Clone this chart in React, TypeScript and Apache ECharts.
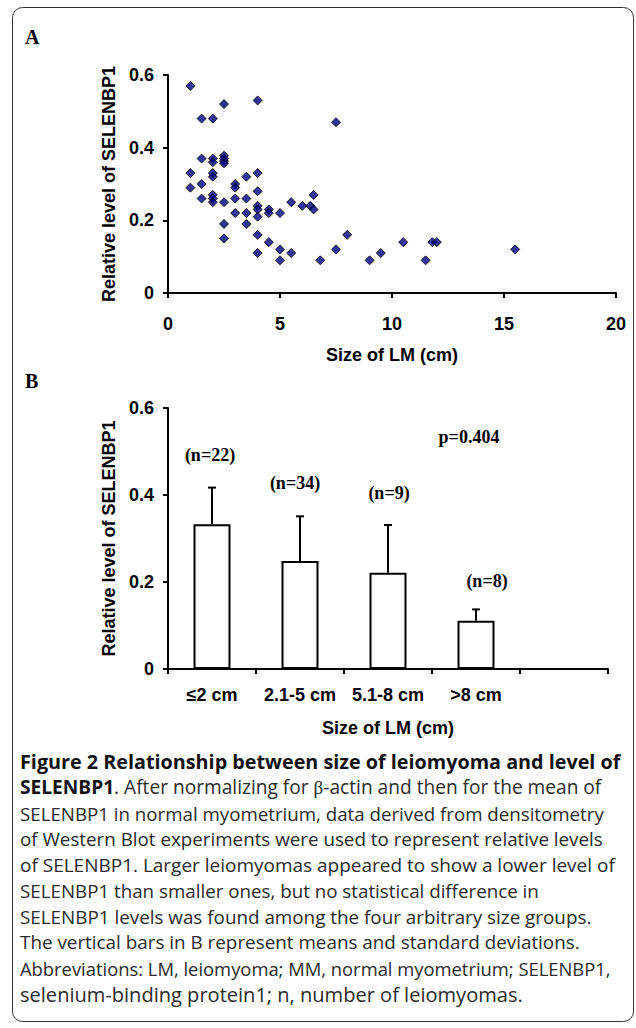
import React, { useEffect, useRef } from "react";
import * as echarts from "echarts";

// ---- Panel A: scatter data (size of LM in cm, relative level of SELENBP1)
const sizeCm = [
  1, 1, 1,
  1.5, 1.5, 1.5, 1.5,
  2, 2, 2, 2, 2, 2, 2, 2,
  2.5, 2.5, 2.5, 2.5, 2.5, 2.5, 2.5, 2.5,
  3, 3, 3, 3,
  3.5, 3.5, 3.5, 3.5,
  4, 4, 4, 4, 4, 4, 4, 4,
  4.5, 4.5, 4.5,
  5, 5, 5,
  5.5, 5.5,
  6, 6.35, 6.5, 6.5, 6.8,
  7.5, 7.5, 8, 9, 9.5, 10.5, 11.5, 11.8, 12, 15.5,
];
const level = [
  0.57, 0.33, 0.29,
  0.48, 0.37, 0.3, 0.26,
  0.48, 0.37, 0.36, 0.33, 0.32, 0.27, 0.26, 0.25,
  0.52, 0.378, 0.37, 0.363, 0.357, 0.25, 0.19, 0.15,
  0.3, 0.29, 0.26, 0.22,
  0.32, 0.26, 0.22, 0.19,
  0.53, 0.33, 0.28, 0.24, 0.23, 0.21, 0.16, 0.11,
  0.23, 0.22, 0.14,
  0.22, 0.12, 0.09,
  0.25, 0.11,
  0.24, 0.24, 0.27, 0.23, 0.09,
  0.47, 0.12, 0.16, 0.09, 0.11, 0.14, 0.09, 0.14, 0.14, 0.12,
];

// ---- Panel B: grouped means and SDs
const groups = ["≤2 cm", "2.1-5 cm", "5.1-8 cm", ">8 cm", ""];
const means = [0.333, 0.248, 0.221, 0.111];
const sds = [0.084, 0.103, 0.11, 0.026];
const nLabels = ["(n=22)", "(n=34)", "(n=9)", "(n=8)"];
const pLabel = "p=0.404";

// caption: [bold part, regular part]
const captionLines: [string, string][] = [
  ["Figure 2 Relationship between size of leiomyoma and level of", ""],
  ["SELENBP1", ". After normalizing for β-actin and then for the mean of"],
  ["", "SELENBP1 in normal myometrium, data derived from densitometry"],
  ["", "of Western Blot experiments were used to represent relative levels"],
  ["", "of SELENBP1. Larger leiomyomas appeared to show a lower level of"],
  ["", "SELENBP1 than smaller ones, but no statistical difference in"],
  ["", "SELENBP1 levels was found among the four arbitrary size groups."],
  ["", "The vertical bars in B represent means and standard deviations."],
  ["", "Abbreviations: LM, leiomyoma; MM, normal myometrium; SELENBP1,"],
  ["", "selenium-binding protein1; n, number of leiomyomas."],
];
const captionRight = [621, 604, 604, 603, 615, 539, 592, 580, 611, 523];

const AX = "Liberation Sans";
const SERIF = "Liberation Serif";
const CAP = "Open Sans";

const tickFmt = (v: number) => (v === 0 ? "0" : v.toFixed(1));

export default function App() {
  const ref = useRef<HTMLDivElement>(null);
  useEffect(() => {
    document.body.style.margin = "0";
    const chart = echarts.init(ref.current!, null, { renderer: "svg" });
    const axisLine = { show: true, lineStyle: { color: "#000", width: 2 } };
    const axisTick = { show: true, length: 5, lineStyle: { color: "#000", width: 2 } };
    const labelStyle = { color: "#000", fontFamily: AX, fontWeight: "bold" as const, fontSize: 18 };
    const nameStyle = { color: "#000", fontFamily: AX, fontWeight: "bold" as const, fontSize: 18 };

    const cvs = document.createElement("canvas");
    const ctx = cvs.getContext("2d")!;
    const measure = (bold: string, reg: string) => {
      let w = 0;
      ctx.font = `bold 100px "${CAP}"`;
      w += ctx.measureText(bold).width;
      ctx.font = `100px "${CAP}"`;
      w += ctx.measureText(reg).width;
      return w / 100;
    };

    const nPos = [
      [210, 455],
      [295, 483],
      [389, 493],
      [487, 581],
    ];

    const graphic: any[] = [
      {
        type: "rect",
        shape: { x: 12.5, y: 7.5, width: 621, height: 1014, r: 10 },
        style: { fill: "none", stroke: "#333", lineWidth: 1 },
        silent: true,
      },
      { type: "text", x: 25, y: 37, style: { text: "A", font: `bold 20px "${SERIF}"`, fill: "#000", verticalAlign: "middle" } },
      { type: "text", x: 25, y: 381, style: { text: "B", font: `bold 20px "${SERIF}"`, fill: "#000", verticalAlign: "middle" } },
      {
        type: "text",
        x: 469,
        y: 437,
        style: { text: pLabel, font: `bold 18px "${SERIF}"`, fill: "#000", align: "center", verticalAlign: "middle" },
      },
    ];
    nLabels.forEach((t, i) => {
      graphic.push({
        type: "text",
        x: nPos[i][0],
        y: nPos[i][1],
        style: { text: t, font: `bold 18px "${SERIF}"`, fill: "#000", align: "center", verticalAlign: "middle" },
      });
    });
    captionLines.forEach(([b, r], i) => {
      const left = 20;
      const em = measure(b, r);
      let size = (captionRight[i] - left) / em;
      size = Math.max(17.5, Math.min(20.5, size));
      const text = (b ? `{b|${b}}` : "") + r.replace("β", "{g|β}");
      graphic.push({
        type: "text",
        x: left,
        y: 761.5 + i * 25.85,
        style: {
          text,
          fontFamily: CAP,
          fontSize: size,
          fill: "#2a2a2a",
          verticalAlign: "middle",
          rich: {
            b: { fontFamily: CAP, fontSize: size, fontWeight: "bold", fill: "#111" },
            g: { fontFamily: SERIF, fontSize: size },
          },
        },
      });
    });

    const yAxisCommon = {
      type: "value",
      min: 0,
      max: 0.6,
      interval: 0.2,
      axisLine,
      axisTick,
      splitLine: { show: false },
      axisLabel: { ...labelStyle, margin: 14, formatter: tickFmt },
      name: "Relative level of SELENBP1",
      nameLocation: "middle",
      nameGap: 45,
      nameTextStyle: nameStyle,
    };

    const option: any = {
      animation: false,
      backgroundColor: "#fff",
      grid: [
        { left: 168, top: 75, width: 448, height: 218 },
        { left: 168, top: 408, width: 440, height: 261 },
      ],
      xAxis: [
        {
          gridIndex: 0,
          type: "value",
          min: 0,
          max: 20,
          interval: 5,
          axisLine,
          axisTick,
          splitLine: { show: false },
          axisLabel: { ...labelStyle, margin: 22 },
          name: "Size of LM (cm)",
          nameLocation: "middle",
          nameGap: 53,
          nameTextStyle: nameStyle,
        },
        {
          gridIndex: 1,
          type: "category",
          data: groups,
          axisLine,
          axisTick: { ...axisTick, interval: 0 },
          axisLabel: { ...labelStyle, margin: 17, interval: 0 },
          name: "Size of LM (cm)",
          nameLocation: "middle",
          nameGap: 50,
          nameTextStyle: nameStyle,
        },
      ],
      yAxis: [
        { gridIndex: 0, ...yAxisCommon },
        { gridIndex: 1, ...yAxisCommon },
      ],
      series: [
        {
          type: "scatter",
          xAxisIndex: 0,
          yAxisIndex: 0,
          symbol: "diamond",
          symbolSize: 9,
          itemStyle: { color: "#000080", borderColor: "#000", borderWidth: 1 },
          data: sizeCm.map((x, i) => [x, level[i]]),
        },
        {
          type: "bar",
          xAxisIndex: 1,
          yAxisIndex: 1,
          barWidth: 37,
          itemStyle: { color: "#fff", borderColor: "#000", borderWidth: 2 },
          data: means,
        },
        {
          type: "custom",
          xAxisIndex: 1,
          yAxisIndex: 1,
          z: 5,
          data: means.map((m, i) => [i, m, m + sds[i]]),
          renderItem: (_p: any, api: any) => {
            const base = api.coord([api.value(0), api.value(1)]);
            const top = api.coord([api.value(0), api.value(2)]);
            const st = { stroke: "#000", lineWidth: 2 };
            return {
              type: "group",
              children: [
                { type: "line", shape: { x1: base[0], y1: base[1], x2: base[0], y2: top[1] }, style: st },
                { type: "line", shape: { x1: base[0] - 4, y1: top[1], x2: base[0] + 4, y2: top[1] }, style: st },
              ],
            };
          },
        },
      ],
      graphic,
    };
    chart.setOption(option);
    return () => chart.dispose();
  }, []);
  return <div ref={ref} style={{ width: 636, height: 1028 }} />;
}
